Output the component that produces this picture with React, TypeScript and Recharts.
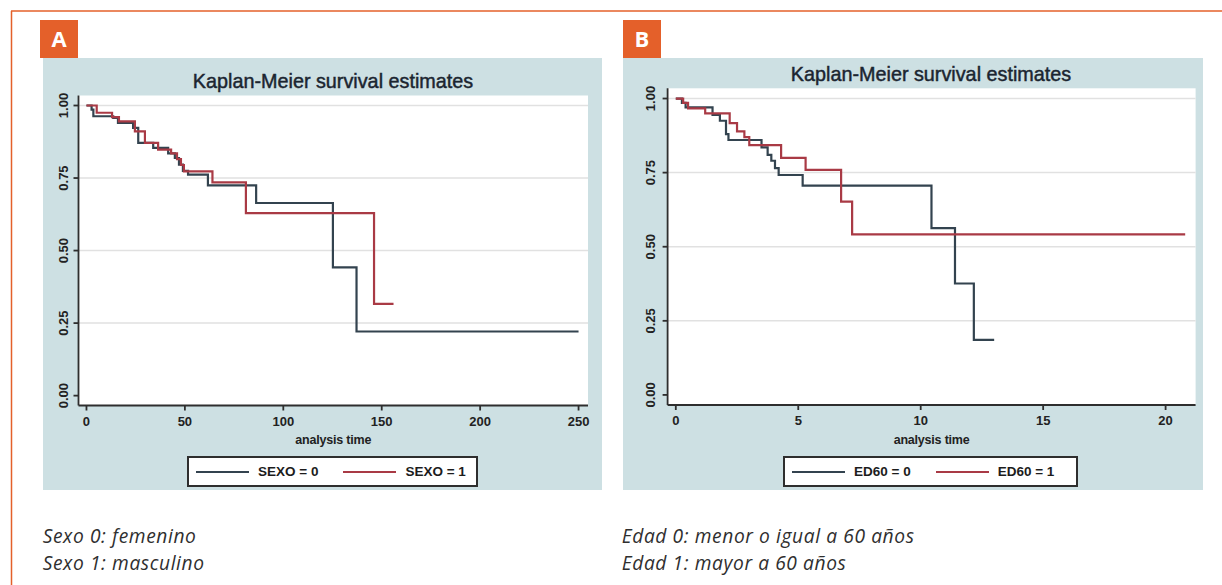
import { CartesianGrid, Legend, Line, LineChart, ReferenceLine, XAxis, YAxis } from "recharts";

const ORANGE = "#e4602a";
const PANEL_BG = "#cde0e3";
const DARK = "#33434f";
const RED = "#a93a45";
const AXIS = "#2e2e2e";
const FONT = "'Liberation Sans', Arial, Helvetica, sans-serif";

// panel A: survival by sex (time in analysis units)
const sexo0Time = [0, 2.6, 3.5, 13.6, 16, 23.7, 26.3, 33.9, 41.5, 44.9, 47, 49, 51.6, 61.7, 86.2, 125.2, 137.2, 250];
const sexo0Surv = [1, 0.986, 0.963, 0.957, 0.94, 0.923, 0.871, 0.854, 0.835, 0.819, 0.796, 0.775, 0.762, 0.725, 0.664, 0.442, 0.221, 0.221];
const sexo1Time = [0, 5.2, 13, 16.5, 24.6, 29.7, 36.4, 43, 46, 48, 49.5, 64, 81, 146.1, 156];
const sexo1Surv = [1, 0.975, 0.96, 0.945, 0.911, 0.871, 0.848, 0.835, 0.815, 0.795, 0.773, 0.735, 0.629, 0.316, 0.316];

// panel B: survival by age group
const ed0Time = [0, 0.25, 0.4, 1.5, 1.8, 2.05, 2.15, 3.5, 3.75, 3.9, 4.05, 4.2, 5.18, 10.44, 11.4, 12.17, 13.0];
const ed0Surv = [1, 0.985, 0.97, 0.945, 0.925, 0.88, 0.86, 0.835, 0.81, 0.79, 0.765, 0.742, 0.706, 0.563, 0.376, 0.186, 0.186];
const ed1Time = [0, 0.3, 0.5, 1.2, 2.2, 2.5, 2.8, 3.0, 4.3, 5.3, 6.75, 7.2, 20.8];
const ed1Surv = [1, 0.985, 0.967, 0.95, 0.917, 0.889, 0.87, 0.843, 0.8, 0.759, 0.652, 0.542, 0.542];

const yTicks = [0, 0.25, 0.5, 0.75, 1];
const gridValues = [0.25, 0.5, 0.75, 1];
const sexoTicks = [0, 50, 100, 150, 200, 250];
const edadTicks = [0, 5, 10, 15, 20];

const toRows = (t: number[], s: number[]) => t.map((x, i) => ({ t: x, s: s[i] }));

type Series = { name: string; color: string; rows: { t: number; s: number }[] };

type PanelProps = {
  left: number;
  top: number;
  width: number;
  height: number;
  margin: { top: number; right: number; bottom: number; left: number };
  yAxisWidth: number;
  yTickGap: number;
  xDomain: [number, number];
  xTicks: number[];
  series: Series[];
  legendBox: { left: number; top: number; width: number; height: number };
};

function YTick(props: any) {
  const { x, y, payload } = props;
  return (
    <text
      x={x}
      y={y}
      transform={`rotate(-90, ${x}, ${y})`}
      textAnchor="middle"
      fontSize={13}
      fontWeight={700}
      fontFamily={FONT}
      fill="#222"
    >
      {Number(payload.value).toFixed(2)}
    </text>
  );
}

function KmLegend(props: any) {
  const items = props.payload || [];
  return (
    <div
      style={{
        boxSizing: "border-box",
        width: "100%",
        height: "100%",
        border: `2px solid ${AXIS}`,
        background: "#fff",
        display: "flex",
        alignItems: "center",
        paddingLeft: 7,
        fontFamily: FONT,
        fontSize: 13.5,
        fontWeight: 700,
        color: "#1c1c1c",
        whiteSpace: "nowrap",
      }}
    >
      {items.map((item: any, i: number) => (
        <div key={i} style={{ display: "flex", alignItems: "center", marginRight: 25, flexShrink: 0 }}>
          <span style={{ display: "inline-block", width: 53, height: 2, background: item.color }} />
          <span style={{ marginLeft: 9 }}>{item.value}</span>
        </div>
      ))}
    </div>
  );
}

function KmPanel(p: PanelProps) {
  return (
    <div style={{ position: "absolute", left: p.left, top: p.top, width: p.width, height: p.height, background: PANEL_BG }}>
      <LineChart width={p.width} height={p.height} margin={p.margin}>
        <CartesianGrid horizontal={false} vertical={false} fill="#fff" fillOpacity={1} />
        {gridValues.map((v) => (
          <ReferenceLine key={v} y={v} stroke="#e1e1e1" strokeWidth={1.5} />
        ))}
        <XAxis
          type="number"
          dataKey="t"
          domain={p.xDomain}
          ticks={p.xTicks}
          allowDataOverflow
          height={30}
          tickSize={5}
          tickMargin={6}
          stroke={AXIS}
          strokeWidth={1.8}
          tick={{ fontSize: 13, fontWeight: 700, fontFamily: FONT, fill: "#222" }}
          label={{
            value: "analysis time",
            position: "bottom",
            offset: 0,
            style: { fontSize: 12.5, fontWeight: 700, fontFamily: FONT, fill: "#222", letterSpacing: -0.2 },
          }}
        />
        <YAxis
          type="number"
          domain={[-0.034, 1.0345]}
          ticks={yTicks}
          allowDataOverflow
          width={p.yAxisWidth}
          tickSize={5}
          tickMargin={p.yTickGap}
          stroke={AXIS}
          strokeWidth={1.8}
          tick={<YTick />}
        />
        {p.series.map((s) => (
          <Line
            key={s.name}
            data={s.rows}
            dataKey="s"
            name={s.name}
            type="stepAfter"
            stroke={s.color}
            strokeWidth={2.2}
            dot={false}
            isAnimationActive={false}
          />
        ))}
        <Legend
          layout="horizontal"
          verticalAlign="middle"
          align="center"
          content={<KmLegend />}
          wrapperStyle={{ ...p.legendBox }}
        />
      </LineChart>
    </div>
  );
}

export default function App() {
  const sexoSeries: Series[] = [
    { name: "SEXO = 0", color: DARK, rows: toRows(sexo0Time, sexo0Surv) },
    { name: "SEXO = 1", color: RED, rows: toRows(sexo1Time, sexo1Surv) },
  ];
  const edadSeries: Series[] = [
    { name: "ED60 = 0", color: DARK, rows: toRows(ed0Time, ed0Surv) },
    { name: "ED60 = 1", color: RED, rows: toRows(ed1Time, ed1Surv) },
  ];

  const titleStyle = { fontFamily: FONT, fontSize: 19.8, fill: "#1b2530", stroke: "#1b2530", strokeWidth: 0.45 };
  const captionStyle = {
    fontFamily: "'Open Sans', sans-serif",
    fontSize: 19.2,
    fontStyle: "italic",
    fontWeight: 400,
    letterSpacing: 0.6,
    fill: "#2f2f2f",
  };

  return (
    <div style={{ position: "absolute", left: 0, top: 0, width: 1222, height: 585, background: "#fff", overflow: "hidden" }}>
      <KmPanel
        left={43}
        top={58}
        width={559}
        height={432}
        margin={{ top: 37.5, right: 14, bottom: 54.5, left: 5.5 }}
        yAxisWidth={30}
        yTickGap={5.5}
        xDomain={[-4.05, 254.8]}
        xTicks={sexoTicks}
        series={sexoSeries}
        legendBox={{ left: 144, top: 398, width: 291, height: 31 }}
      />
      <KmPanel
        left={623}
        top={58}
        width={580}
        height={432}
        margin={{ top: 30.3, right: 7.4, bottom: 55, left: 6.6 }}
        yAxisWidth={38}
        yTickGap={7.6}
        xDomain={[-0.335, 21.225]}
        xTicks={edadTicks}
        series={edadSeries}
        legendBox={{ left: 160, top: 398, width: 295, height: 31 }}
      />
      <svg width={1222} height={585} style={{ position: "absolute", left: 0, top: 0, pointerEvents: "none" }}>
        <line x1={11} y1={11} x2={1222} y2={11} stroke={ORANGE} strokeWidth={1.5} />
        <line x1={11.5} y1={11} x2={11.5} y2={585} stroke={ORANGE} strokeWidth={1.5} />
        <rect x={40} y={20} width={38} height={38} fill={ORANGE} />
        <text x={59} y={47} textAnchor="middle" fill="#fff" fontSize={22} fontWeight={700} fontFamily="'Open Sans', sans-serif">A</text>
        <rect x={623} y={20} width={38} height={38} fill={ORANGE} />
        <text x={642} y={47} textAnchor="middle" fill="#fff" fontSize={22} fontWeight={700} fontFamily="'Open Sans', sans-serif">B</text>
        <text x={333} y={88.3} textAnchor="middle" style={titleStyle}>Kaplan-Meier survival estimates</text>
        <text x={931} y={81} textAnchor="middle" style={titleStyle}>Kaplan-Meier survival estimates</text>
        <text x={42.7} y={542.5} style={captionStyle}>Sexo 0: femenino</text>
        <text x={42.7} y={569.5} style={captionStyle}>Sexo 1: masculino</text>
        <text x={621.7} y={542.5} style={captionStyle}>Edad 0: menor o igual a 60 años</text>
        <text x={621.7} y={569.5} style={captionStyle}>Edad 1: mayor a 60 años</text>
      </svg>
    </div>
  );
}
